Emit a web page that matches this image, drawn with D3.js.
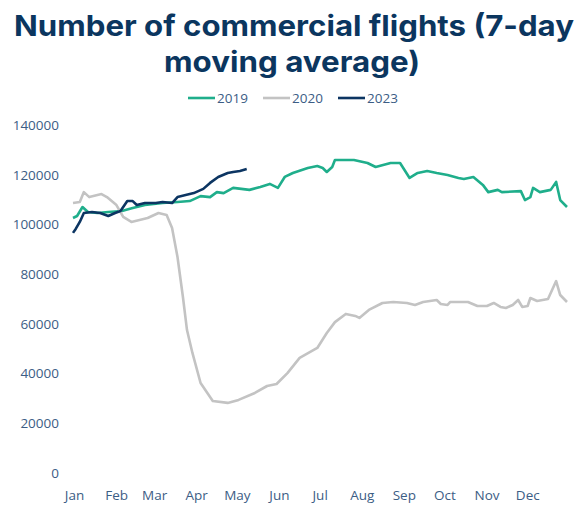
<!DOCTYPE html>
<html>
<head>
<meta charset="utf-8">
<script src="https://cdn.jsdelivr.net/npm/d3@7"></script>
<style>
  body { margin: 0; background: #fff; }
  svg { display: block; }
</style>
</head>
<body>
<div id="chart"></div>
<script>
const width = 584;
const height = 506;

// data: [day of year, flights]
const flights2019 = [[0,102600],[3,103400],[7,107000],[11,105000],[18,104600],[26,105000],[36,105400],[44,106600],[53,107800],[66,108600],[77,109000],[86,109400],[94,111400],[101,111000],[106,113000],[111,112600],[118,114700],[130,113900],[138,115100],[145,116300],[151,114700],[156,119100],[162,120700],[173,122700],[180,123500],[184,122700],[187,121100],[191,123100],[193,125900],[207,125900],[217,124700],[223,123100],[234,124700],[241,124700],[248,118700],[254,120700],[261,121500],[268,120700],[276,119900],[284,118700],[288,118300],[295,119100],[302,115900],[306,113000],[313,113900],[316,113000],[330,113400],[333,109800],[337,111000],[339,114700],[344,113000],[352,113900],[356,117100],[359,109800],[364,107000]];

const flights2020 = [[0,108600],[5,109000],[8,113000],[12,111000],[21,112200],[25,111000],[32,107800],[37,103000],[43,101000],[49,101800],[55,102600],[63,104600],[69,103800],[73,98600],[77,86900],[81,70800],[84,57500],[88,48300],[94,36200],[103,29000],[114,28200],[122,29400],[134,32200],[143,35000],[150,35800],[158,40200],[167,46300],[180,50300],[187,56300],[193,60700],[201,64000],[208,63200],[211,62400],[218,65600],[228,68400],[236,68800],[246,68400],[252,67600],[258,68800],[268,69600],[271,68000],[276,67600],[278,68800],[291,68800],[298,67200],[305,67200],[310,68400],[315,66800],[319,66400],[324,67600],[328,69600],[331,66800],[335,67200],[337,70400],[342,69200],[350,70000],[353,73600],[356,77200],[359,71600],[364,68800]];

const flights2023 = [[0,96600],[2,98200],[5,101000],[8,104600],[14,105000],[20,104600],[26,103400],[31,104600],[35,105400],[40,109400],[44,109400],[47,107800],[53,108600],[61,108600],[66,109000],[73,108600],[77,111000],[83,111800],[89,112600],[96,114300],[101,116700],[107,119100],[114,120700],[118,121100],[123,121500],[128,122300]];

const monthStarts = [0,31,59,90,120,151,181,212,243,273,304,334];
const monthLabels = ["Jan","Feb","Mar","Apr","May","Jun","Jul","Aug","Sep","Oct","Nov","Dec"];
const yTicks = [0,20000,40000,60000,80000,100000,120000,140000];

const series = [
  { name: "2019", values: flights2019, color: "#1fae8b" },
  { name: "2020", values: flights2020, color: "#c3c3c3" },
  { name: "2023", values: flights2023, color: "#0c3562" }
];

const svg = d3.select("#chart").append("svg")
  .attr("width", width)
  .attr("height", height);

const x = d3.scaleLinear().domain([0, 364]).range([73, 567]);
const y = d3.scaleLinear().domain([0, 140000]).range([473, 125]);

// title (stretched a bit to match the wide original font)
const title = svg.append("text")
  .attr("text-anchor", "middle")
  .attr("fill", "#0b365f")
  .style("font-family", "Inter, 'Open Sans', sans-serif")
  .style("font-weight", "700")
  .style("font-size", "29px");
title.append("tspan").attr("x", 294).attr("y", 36)
  .attr("textLength", 560).attr("lengthAdjust", "spacingAndGlyphs")
  .text("Number of commercial flights (7-day");
title.append("tspan").attr("x", 292).attr("y", 72)
  .attr("textLength", 256).attr("lengthAdjust", "spacingAndGlyphs")
  .text("moving average)");

// y axis
const yAxis = d3.axisLeft(y).tickValues(yTicks).tickSize(0).tickPadding(0).tickFormat(d3.format("d"));
const gy = svg.append("g").attr("transform", "translate(59,0)").call(yAxis);
gy.select(".domain").remove();
gy.selectAll("text")
  .attr("fill", "#3c5d85")
  .style("font-family", "'Open Sans', sans-serif")
  .style("font-size", "13.5px");

// x axis
const xAxis = d3.axisBottom(x).tickValues(monthStarts).tickSize(0).tickPadding(0)
  .tickFormat((d, i) => monthLabels[i]);
const gx = svg.append("g").attr("transform", "translate(1,490)").call(xAxis);
gx.select(".domain").remove();
gx.selectAll("text")
  .attr("fill", "#3c5d85")
  .style("font-family", "'Open Sans', sans-serif")
  .style("font-size", "13.5px");

// lines
const line = d3.line()
  .x(d => x(d[0]))
  .y(d => y(d[1]))
  .curve(d3.curveLinear);

svg.selectAll(".series")
  .data(series)
  .enter()
  .append("path")
  .attr("class", "series")
  .attr("fill", "none")
  .attr("stroke", d => d.color)
  .attr("stroke-width", 2.6)
  .attr("stroke-linejoin", "round")
  .attr("d", d => line(d.values));

// legend
const legendX = [188, 263, 338];
const legend = svg.selectAll(".legend")
  .data(series)
  .enter()
  .append("g")
  .attr("class", "legend")
  .attr("transform", (d, i) => "translate(" + legendX[i] + ",98)");

legend.append("line")
  .attr("x1", 0).attr("x2", 27)
  .attr("stroke", d => d.color)
  .attr("stroke-width", 2.6);

legend.append("text")
  .attr("x", 29)
  .attr("dy", "0.35em")
  .attr("fill", "#3c5d85")
  .style("font-family", "'Open Sans', sans-serif")
  .style("font-size", "13.5px")
  .text(d => d.name);
</script>
</body>
</html>
